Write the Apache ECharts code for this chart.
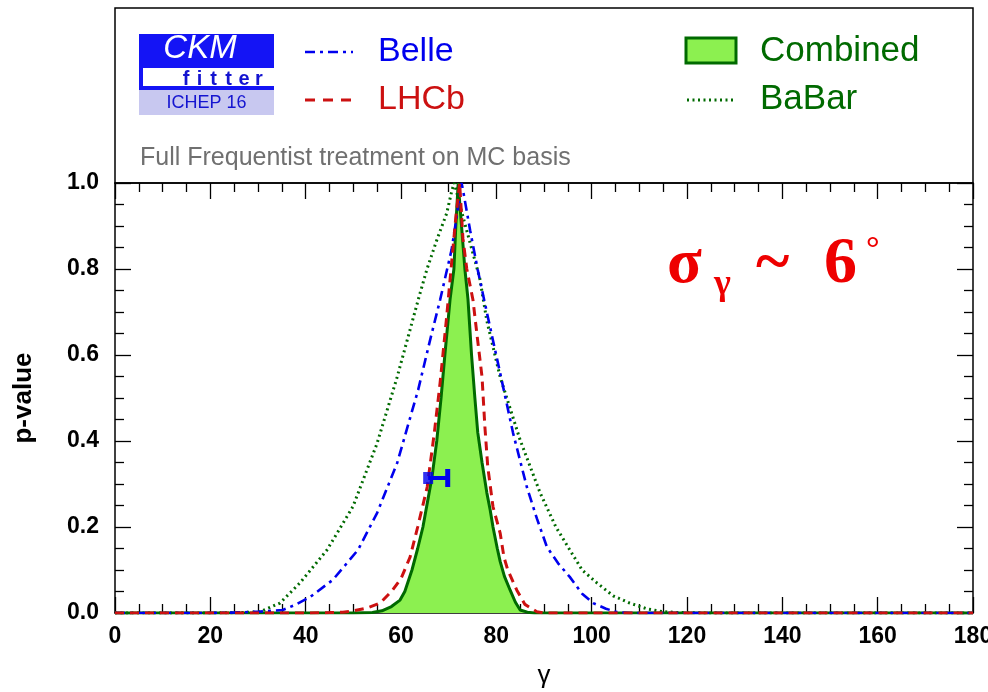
<!DOCTYPE html>
<html><head><meta charset="utf-8">
<script src="https://cdn.jsdelivr.net/npm/echarts@6/dist/echarts.min.js"></script>
<style>html,body{margin:0;padding:0;background:#fff}#c{width:988px;height:692px}</style>
</head><body><div id="c"></div>
<script>
// ---- data ----
const xTicks = [0, 20, 40, 60, 80, 100, 120, 140, 160, 180];
const yTicks = [0.0, 0.2, 0.4, 0.6, 0.8, 1.0];

const combinedGamma = [0,50,54,56,58,59.8,60.8,62.3,63.5,64.6,66.5,67.5,68.4,69.2,70.3,71.1,71.5,72,72.7,73.4,74.05,74.8,75.5,76.1,77,78,78.7,79.3,80.2,80.8,81.7,82.9,84,85,86.5,88,180];
const combinedP     = [0,0,0.001,0.005,0.015,0.03,0.05,0.1,0.15,0.2,0.316,0.4,0.5,0.6,0.73,0.8,0.9,1.0,0.9,0.8,0.73,0.6,0.5,0.42,0.35,0.28,0.24,0.2,0.15,0.12,0.085,0.053,0.025,0.007,0.002,0,0];

const lhcbGamma = [0,40,45,47.8,50,53,55.6,58,60,61.9,63.5,65.5,67,68.2,69.5,70.5,71.5,72.3,73,73.8,75.1,75.9,77,77.6,78.2,79.3,80.8,81.6,82.4,84.3,86,88.5,90,180];
const lhcbP     = [0,0,0.001,0.002,0.005,0.012,0.023,0.05,0.08,0.13,0.2,0.293,0.42,0.535,0.68,0.8,0.92,1.0,0.87,0.8,0.728,0.651,0.549,0.433,0.34,0.247,0.186,0.13,0.1,0.053,0.02,0.003,0,0];

const belleGamma = [0,20,25,30,35.2,38,40.9,45.7,51,55,59.2,63.6,66,68.2,70.6,71.8,72.7,73,74.5,76.1,77.6,80.8,83.5,86.4,88.5,90.6,93,95.4,98,100.3,103,105.3,108,180];
const belleP     = [0,0,0.001,0.003,0.007,0.02,0.037,0.077,0.147,0.233,0.349,0.519,0.63,0.728,0.844,0.93,1.0,0.984,0.89,0.798,0.72,0.558,0.419,0.293,0.22,0.154,0.115,0.084,0.045,0.023,0.01,0.002,0,0];

const babarGamma = [0,20,26,30.4,34.6,38.8,44.5,49.9,55,59.2,63.6,65.4,67.5,69.6,70.7,71.2,72.8,74.9,76.5,78,80.8,85,89.2,92.5,95.4,98,101.1,104.5,108,111.5,115,118.5,125,180];
const babarP     = [0,0,0.001,0.003,0.023,0.07,0.147,0.247,0.395,0.549,0.728,0.798,0.867,0.93,0.984,1.0,0.93,0.844,0.78,0.68,0.549,0.402,0.279,0.2,0.147,0.1,0.07,0.04,0.023,0.01,0.003,0.001,0,0];

// average point with error bar (gamma, p, upper end)
const avgPoint = [65.7, 0.314];
const avgUpper = 69.8;
const capHalf = 0.021;

const legendNames = ['Belle', 'LHCb', 'Combined', 'BaBar'];
const noteText = 'Full Frequentist treatment on MC basis';

// ---- build ----
const zip = (a, b) => a.map((v, i) => [v, b[i]]);
const SANS = '"Liberation Sans", Arial, sans-serif';
const SERIF = '"Liberation Serif", "Times New Roman", serif';
const BLUE = '#0000ee', RED = '#cc1111', DGREEN = '#006a00', FILL = '#8cf050';

const axisCommon = {
  min: 0, axisLine: { show: true, onZero: false, lineStyle: { color: '#000', width: 1.5 } },
  axisTick: { show: true, inside: true, length: 16, lineStyle: { color: '#000', width: 1.3 } },
  minorTick: { show: true, splitNumber: 4, length: 9, lineStyle: { color: '#000', width: 1.3 } },
  splitLine: { show: false }
};

const chart = echarts.init(document.getElementById('c'), null, { renderer: 'canvas' });
chart.setOption({
  animation: false,
  backgroundColor: '#fff',
  grid: { left: 115, right: 15, top: 183, bottom: 79, containLabel: false, outerBoundsMode: 'none' },
  xAxis: [
    Object.assign({}, axisCommon, {
      type: 'value', position: 'bottom', max: 180, interval: 20,
      axisLabel: { show: true, margin: 12, color: '#000', fontFamily: SANS, fontWeight: 'bold', fontSize: 23,
        formatter: v => xTicks.includes(v) ? String(v) : '' },
      name: 'γ', nameLocation: 'middle', nameGap: 50,
      nameTextStyle: { color: '#000', fontFamily: SANS, fontSize: 26 }
    }),
    Object.assign({}, axisCommon, {
      type: 'value', position: 'top', max: 180, interval: 20, axisLabel: { show: false }
    })
  ],
  yAxis: [
    Object.assign({}, axisCommon, {
      type: 'value', position: 'left', max: 1, interval: 0.2,
      axisLabel: { show: true, margin: 16, color: '#000', fontFamily: SANS, fontWeight: 'bold', fontSize: 23,
        formatter: v => yTicks.some(t => Math.abs(t - v) < 1e-9) ? v.toFixed(1) : '' },
      name: 'p-value', nameLocation: 'middle', nameGap: 78, nameRotate: 90,
      nameTextStyle: { color: '#000', fontFamily: SANS, fontWeight: 'bold', fontSize: 26 }
    }),
    Object.assign({}, axisCommon, {
      type: 'value', position: 'right', max: 1, interval: 0.2, axisLabel: { show: false }
    })
  ],
  series: [
    { name: 'Combined', type: 'line', data: zip(combinedGamma, combinedP), symbol: 'none',
      lineStyle: { color: DGREEN, width: 3 }, areaStyle: { color: FILL, opacity: 1 }, z: 2 },
    { name: 'BaBar', type: 'line', data: zip(babarGamma, babarP), symbol: 'none',
      lineStyle: { color: DGREEN, width: 3, type: [2, 3.5] }, z: 3 },
    { name: 'Belle', type: 'line', data: zip(belleGamma, belleP), symbol: 'none',
      lineStyle: { color: BLUE, width: 2.6, type: [10, 5, 3, 5] }, z: 3 },
    { name: 'LHCb', type: 'line', data: zip(lhcbGamma, lhcbP), symbol: 'none',
      lineStyle: { color: RED, width: 3, type: [9, 6] }, z: 3 },
    { type: 'line', data: [avgPoint, [avgUpper, avgPoint[1]]], symbol: 'none',
      lineStyle: { color: BLUE, width: 4 }, z: 5, silent: true },
    { type: 'line', data: [[avgUpper, avgPoint[1] - capHalf], [avgUpper, avgPoint[1] + capHalf]], symbol: 'none',
      lineStyle: { color: BLUE, width: 5 }, z: 5, silent: true },
    { type: 'scatter', data: [avgPoint], symbol: 'rect', symbolSize: [10, 12],
      itemStyle: { color: BLUE }, z: 6, silent: true }
  ],
  graphic: [
    // header box
    { type: 'rect', shape: { x: 115, y: 8, width: 858, height: 175 }, style: { fill: '#fff', stroke: '#000', lineWidth: 1.5 }, z: -1 },
    // logo
    { type: 'rect', shape: { x: 139, y: 34, width: 135, height: 56 }, style: { fill: '#1414f5' } },
    { type: 'rect', shape: { x: 143, y: 68, width: 131, height: 18 }, style: { fill: '#fff' } },
    { type: 'rect', shape: { x: 139, y: 90, width: 135, height: 25 }, style: { fill: '#c8c8f0' } },
    { type: 'text', style: { x: 200, y: 49, text: 'CKM', fill: '#fff', font: 'italic 33px ' + SANS, align: 'center', verticalAlign: 'middle' } },
    { type: 'text', style: { x: 186, y: 79, text: 'f', fill: '#1414d0', font: 'bold 20px ' + SANS, align: 'center', verticalAlign: 'middle' } },
    { type: 'text', style: { x: 199.5, y: 79, text: 'i', fill: '#1414d0', font: 'bold 20px ' + SANS, align: 'center', verticalAlign: 'middle' } },
    { type: 'text', style: { x: 213.5, y: 79, text: 't', fill: '#1414d0', font: 'bold 20px ' + SANS, align: 'center', verticalAlign: 'middle' } },
    { type: 'text', style: { x: 228.5, y: 79, text: 't', fill: '#1414d0', font: 'bold 20px ' + SANS, align: 'center', verticalAlign: 'middle' } },
    { type: 'text', style: { x: 244, y: 79, text: 'e', fill: '#1414d0', font: 'bold 20px ' + SANS, align: 'center', verticalAlign: 'middle' } },
    { type: 'text', style: { x: 259, y: 79, text: 'r', fill: '#1414d0', font: 'bold 20px ' + SANS, align: 'center', verticalAlign: 'middle' } },
    { type: 'text', style: { x: 206.5, y: 103.5, text: 'ICHEP 16', fill: '#1414d0', font: '18px ' + SANS, align: 'center', verticalAlign: 'middle' } },
    // legend
    { type: 'line', shape: { x1: 305, y1: 52, x2: 353, y2: 52 }, style: { stroke: BLUE, lineWidth: 2.6, lineDash: [10, 5, 3, 5] } },
    { type: 'text', style: { x: 378, y: 52, text: legendNames[0], fill: BLUE, font: '34px ' + SANS, verticalAlign: 'middle' } },
    { type: 'line', shape: { x1: 305, y1: 100, x2: 353, y2: 100 }, style: { stroke: RED, lineWidth: 3, lineDash: [10, 8] } },
    { type: 'text', style: { x: 378, y: 100, text: legendNames[1], fill: RED, font: '34px ' + SANS, verticalAlign: 'middle' } },
    { type: 'rect', shape: { x: 686, y: 38, width: 50, height: 25 }, style: { fill: FILL, stroke: DGREEN, lineWidth: 3 } },
    { type: 'text', style: { x: 760, y: 51, text: legendNames[2], fill: DGREEN, font: '35px ' + SANS, verticalAlign: 'middle' } },
    { type: 'line', shape: { x1: 687, y1: 100, x2: 736, y2: 100 }, style: { stroke: DGREEN, lineWidth: 3, lineDash: [2, 3.5] } },
    { type: 'text', style: { x: 760, y: 99, text: legendNames[3], fill: DGREEN, font: '35px ' + SANS, verticalAlign: 'middle' } },
    { type: 'text', style: { x: 140, y: 158, text: noteText, fill: '#707070', font: '25px ' + SANS, verticalAlign: 'middle' } },
    // sigma annotation
    { type: 'text', style: { x: 667, y: 265, text: 'σ', fill: '#ee0000', font: 'bold 64px ' + SERIF, verticalAlign: 'middle' } },
    { type: 'text', style: { x: 714, y: 285, text: 'γ', fill: '#ee0000', font: 'bold 36px ' + SERIF, verticalAlign: 'middle' } },
    { type: 'text', style: { x: 756, y: 265, text: '~', fill: '#ee0000', font: 'bold 64px ' + SERIF, verticalAlign: 'middle' } },
    { type: 'text', style: { x: 824, y: 265, text: '6', fill: '#ee0000', font: 'bold 66px ' + SERIF, verticalAlign: 'middle' } },
    { type: 'text', style: { x: 866, y: 250, text: '°', fill: '#ee0000', font: 'bold 34px ' + SERIF, verticalAlign: 'middle' } }
  ]
});
</script></body></html>
